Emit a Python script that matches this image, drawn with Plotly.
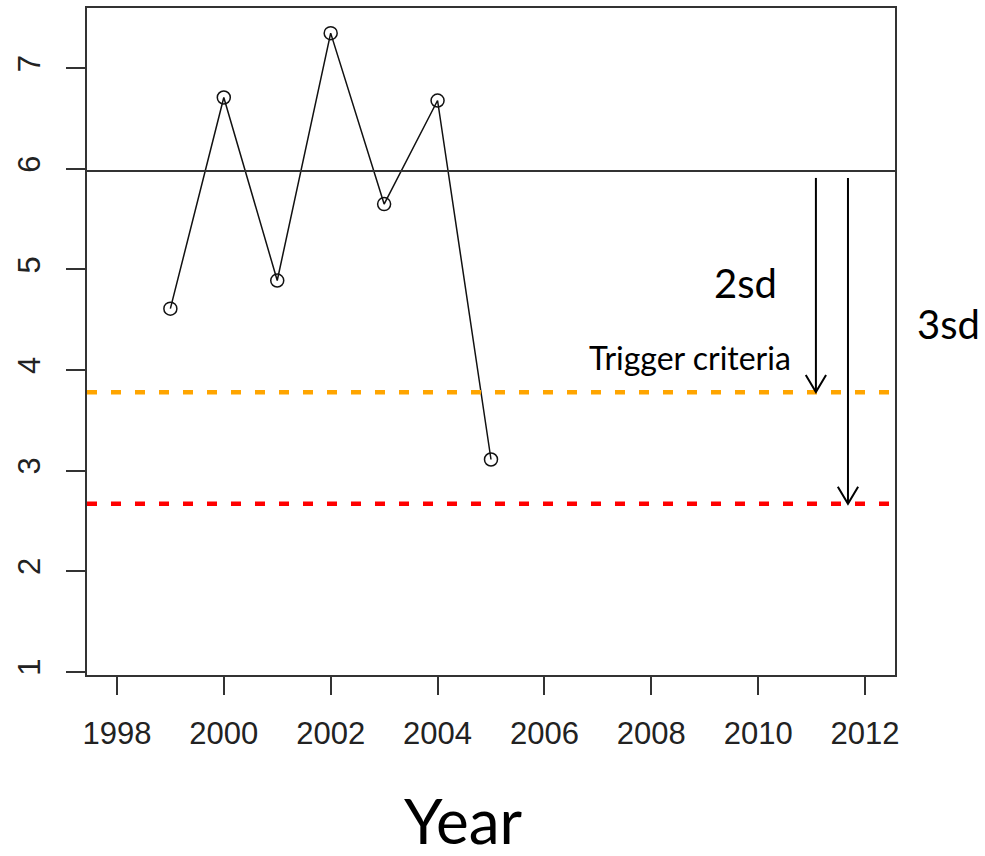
import plotly.graph_objects as go

# Annual index values
years = [1999, 2000, 2001, 2002, 2003, 2004, 2005]
values = [4.61, 6.71, 4.89, 7.35, 5.65, 6.68, 3.11]

# Reference level and trigger thresholds
mean_level = 5.98
trigger_2sd = 3.78
trigger_3sd = 2.67

# Axis ticks
x_ticks = [1998, 2000, 2002, 2004, 2006, 2008, 2010, 2012]
y_ticks = [1, 2, 3, 4, 5, 6, 7]

# Arrow placement (x in years, start level just under the mean line)
arrow_x_2sd = 2011.08
arrow_x_3sd = 2011.68
arrow_start = 5.91
head_dx = 0.19
head_dy = 0.17

AX = "#333333"
TXT_FONT = "Lato"

fig = go.Figure()

fig.add_trace(go.Scatter(
    x=years, y=values, mode="lines+markers",
    line=dict(color="#111111", width=1.5),
    marker=dict(symbol="circle-open", size=13, color="#111111",
                line=dict(width=1.5, color="#111111")),
    showlegend=False, hoverinfo="x+y",
))

shapes = []
# mean line
shapes.append(dict(type="line", xref="paper", x0=0, x1=1, yref="y",
                   y0=mean_level, y1=mean_level,
                   line=dict(color=AX, width=2)))
# threshold lines
for lvl, col in [(trigger_2sd, "#FFA500"), (trigger_3sd, "#FF0000")]:
    shapes.append(dict(type="line", xref="paper", x0=0, x1=1, yref="y",
                       y0=lvl, y1=lvl,
                       line=dict(color=col, width=4.5, dash="10px,14px")))
# arrows from the mean down to each threshold
for ax_x, lvl in [(arrow_x_2sd, trigger_2sd), (arrow_x_3sd, trigger_3sd)]:
    shapes.append(dict(type="line", xref="x", yref="y",
                       x0=ax_x, x1=ax_x, y0=arrow_start, y1=lvl,
                       line=dict(color="black", width=2)))
    shapes.append(dict(type="path", xref="x", yref="y",
                       path=f"M {ax_x - head_dx} {lvl + head_dy} L {ax_x} {lvl} L {ax_x + head_dx} {lvl + head_dy}",
                       line=dict(color="black", width=2)))

annotations = [
    dict(text="2sd", x=2009.755, y=4.866, xref="x", yref="y",
         showarrow=False, xanchor="center", yanchor="middle",
         font=dict(family=TXT_FONT, size=40, color="black")),
    dict(text="Trigger criteria", x=2008.715, y=4.12, xref="x", yref="y",
         showarrow=False, xanchor="center", yanchor="middle",
         font=dict(family=TXT_FONT, size=32, color="black")),
    dict(text="3sd", x=1.0656, y=0.526, xref="paper", yref="paper",
         showarrow=False, xanchor="center", yanchor="middle",
         font=dict(family=TXT_FONT, size=40, color="black")),
    dict(text="Year", x=0.465, y=-0.218, xref="paper", yref="paper",
         showarrow=False, xanchor="center", yanchor="middle",
         font=dict(family=TXT_FONT, size=62, color="black")),
]

fig.update_layout(
    width=985, height=856, autosize=False,
    margin=dict(l=87, r=90, t=6, b=181),
    paper_bgcolor="white", plot_bgcolor="white",
    shapes=shapes, annotations=annotations,
    showlegend=False,
)

fig.update_xaxes(
    range=[1997.44, 2012.56], tickvals=x_ticks, ticktext=[str(v) for v in x_ticks],
    showgrid=False, zeroline=False,
    showline=True, mirror=True, linecolor=AX, linewidth=2,
    ticks="outside", ticklen=18, tickwidth=2, tickcolor=AX,
    ticklabelstandoff=12,
    tickfont=dict(family="Liberation Sans", size=31, color="#222222"),
)
fig.update_yaxes(
    range=[0.967, 7.6], tickvals=y_ticks, ticktext=[str(v) for v in y_ticks],
    showgrid=False, zeroline=False,
    showline=True, mirror=True, linecolor=AX, linewidth=2,
    ticks="outside", ticklen=19, tickwidth=2, tickcolor=AX,
    tickangle=-90, ticklabelstandoff=14,
    tickfont=dict(family="Liberation Sans", size=31, color="#222222"),
)

fig.write_html("out.html")
